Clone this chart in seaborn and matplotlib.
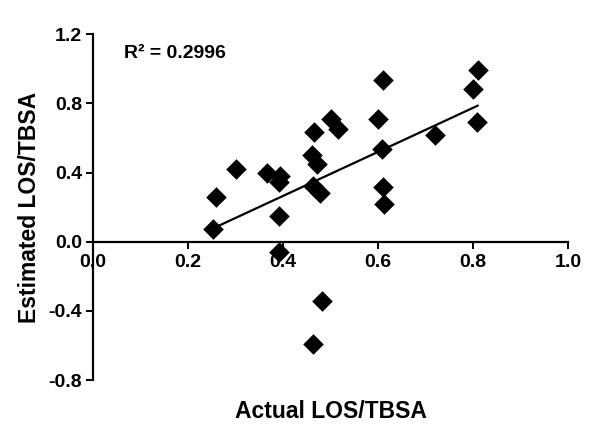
import numpy as np
import pandas as pd
import seaborn as sns
import matplotlib
matplotlib.use('Agg')
import matplotlib.pyplot as plt

# values
actual = [0.253, 0.259, 0.301, 0.366, 0.394, 0.392, 0.392, 0.392,
          0.465, 0.460, 0.472, 0.464, 0.478, 0.501, 0.515,
          0.599, 0.608, 0.611, 0.611, 0.613, 0.719,
          0.810, 0.800, 0.808, 0.481, 0.462]
estimated = [0.075, 0.259, 0.419, 0.400, 0.380, 0.346, 0.150, -0.060,
             0.634, 0.500, 0.448, 0.323, 0.284, 0.707, 0.653,
             0.707, 0.534, 0.938, 0.317, 0.221, 0.617,
             0.995, 0.886, 0.692, -0.340, -0.590]
x_ticks = [0.0, 0.2, 0.4, 0.6, 0.8, 1.0]
y_ticks = [-0.8, -0.4, 0.0, 0.4, 0.8, 1.2]
r2_label = 'R\u00b2 = 0.2996'

df = pd.DataFrame({'actual': actual, 'estimated': estimated})

sns.set_style('ticks')
plt.rcParams['font.family'] = ['Liberation Sans', 'DejaVu Sans']
plt.rcParams['font.weight'] = 'bold'
plt.rcParams['text.color'] = 'black'
plt.rcParams['axes.labelcolor'] = 'black'

fig = plt.figure(figsize=(6, 4.33), dpi=100)
ax = fig.add_axes([0.155, 0.122, 0.792, 0.799])

sns.regplot(data=df, x='actual', y='estimated', ci=None, marker='D', ax=ax,
            scatter_kws={'s': 110, 'color': 'black', 'alpha': 1, 'linewidths': 0},
            line_kws={'color': 'black', 'lw': 1.6})

ax.set_xlim(0, 1.0)
ax.set_ylim(-0.8, 1.2)
ax.set_xticks(x_ticks)
ax.set_yticks(y_ticks)
ax.set_xticklabels(['%.1f' % v for v in x_ticks])
ax.set_yticklabels(['%.1f' % v for v in y_ticks])

# axes cross at zero, like the original
ax.spines['bottom'].set_position(('data', 0))
ax.spines['top'].set_visible(False)
ax.spines['right'].set_visible(False)
for s in ['left', 'bottom']:
    ax.spines[s].set_linewidth(1.6)
    ax.spines[s].set_color('black')
ax.tick_params(width=1.4, length=5, labelsize=14, colors='black', direction='out')
ax.tick_params(axis='x', pad=4)
ax.tick_params(axis='y', pad=3)

# gap in the y spine behind the "0.0" x label
first = ax.get_xticklabels()[0]
first.set_bbox(dict(facecolor='white', edgecolor='none', pad=3))

ax.set_xlabel('Actual LOS/TBSA', fontsize=16.5, fontweight='bold')
ax.set_ylabel('Estimated LOS/TBSA', fontsize=16.5, fontweight='bold')
ax.xaxis.set_label_coords(0.5, -0.058)
ax.yaxis.set_label_coords(-0.11, 0.5)

ax.text(0.065, 1.09, r2_label, fontsize=14, fontweight='bold', va='center')

fig.savefig('out.png', dpi=100)
